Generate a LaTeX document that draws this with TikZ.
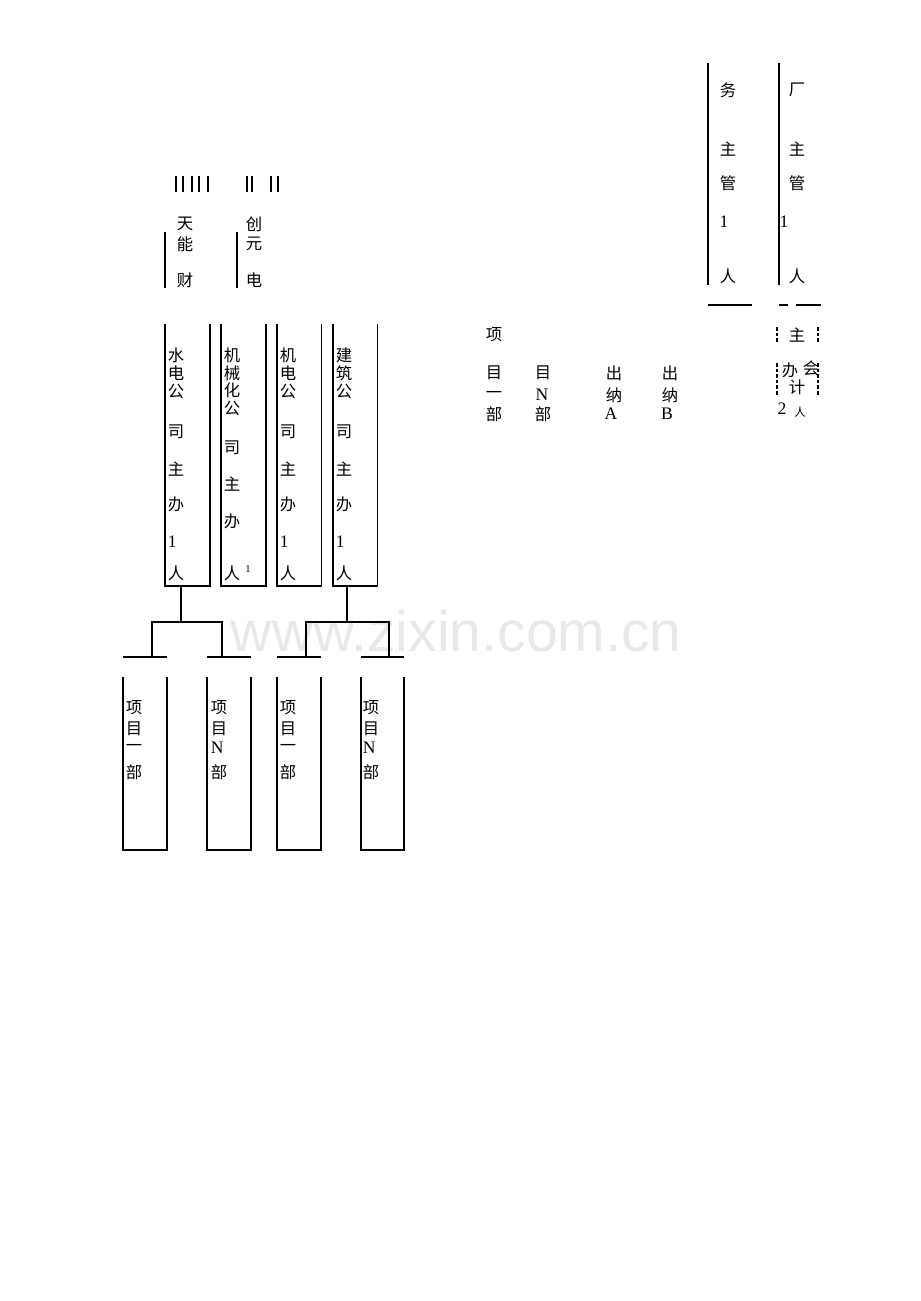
\documentclass[tikz,border=0pt]{standalone}
\usepackage{fontspec}
\setmainfont{Liberation Serif}
\setsansfont{Liberation Sans}
\newfontfamily\cjk{Noto Sans CJK SC}

\begin{document}
\begin{tikzpicture}[x=0.02cm, y=-0.02cm, line width=1.1pt,
    zh/.style={font=\cjk\fontsize{9.3}{9.5}\selectfont, inner sep=0pt},
    la/.style={font=\fontsize{10}{10}\selectfont, inner sep=0pt},
    colbox/.style={minimum width=0.86cm, minimum height=5.2cm, inner sep=0pt},
    xmbox/.style={minimum width=0.83cm, minimum height=3.42cm, inner sep=0pt},
    dashedge/.style={dash pattern=on 2pt off 1.2pt}]
    \useasboundingbox (0,0) rectangle (920,1301);

    % watermark
    \node[font=\sffamily\fontsize{32.5}{34}\selectfont, text=black!9, anchor=base west, inner sep=0pt] (wm) at (230,651) {www.zixin.com.cn};

    % top left
    \foreach \x in {176,183,192,199,208,247,252,271,278}
        \draw[line width=0.9pt] (\x,176) -- (\x,192);
    \draw (165,232) -- (165,288);
    \draw (237,232) -- (237,288);
    \node[zh] (tn1) at (185,224) {天};
    \node[zh] (tn2) at (185,244) {能};
    \node[zh] (tn3) at (185,280) {财};
    \node[zh] (cy1) at (254,224) {创};
    \node[zh] (cy2) at (254,244) {元};
    \node[zh] (cy3) at (254,280) {电};

    % top right
    \draw (708,63) -- (708,285);
    \draw (779,63) -- (779,285);
    \node[zh] (cw1) at (728,90) {务};
    \node[zh] (cw2) at (728,149) {主};
    \node[zh] (cw3) at (728,183) {管};
    \node[la] (cw4) at (724,222) {1};
    \node[zh] (cw5) at (728,276) {人};
    \node[zh] (cz1) at (797,90) {厂};
    \node[zh] (cz2) at (797,149) {主};
    \node[zh] (cz3) at (797,183) {管};
    \node[la] (cz4) at (784,222) {1};
    \node[zh] (cz5) at (797,276) {人};
    \draw (708,305) -- (752,305);
    \draw (779,305) -- (788,305);
    \draw (796,305) -- (821,305);

    % accountants
    \draw[dashedge] (777,327) -- (777,342);
    \draw[dashedge] (818,327) -- (818,342);
    \draw[dashedge] (777,363) -- (777,395);
    \draw[dashedge] (818,363) -- (818,395);
    \node[zh] (kj1) at (797,335) {主};
    \node[zh] (kj2) at (790,370) {办};
    \node[zh] (kj3) at (811,368) {会};
    \node[zh] (kj4) at (797,387) {计};
    \node[la] (kj5) at (782,409) {2};
    \node[zh, font=\cjk\fontsize{6.5}{7}\selectfont] (kj6) at (800,412) {人};

    % middle row
    \node[zh] (xm0) at (494,335) {项};
    \node[zh] (xa1) at (494,373) {目};
    \node[zh] (xa2) at (494,395) {一};
    \node[zh] (xa3) at (494,414) {部};
    \node[zh] (xb1) at (543,373) {目};
    \node[la] (xb2) at (542,395) {N};
    \node[zh] (xb3) at (543,414) {部};
    \node[zh] (cn1) at (614,373) {出};
    \node[zh] (cn2) at (614,395) {纳};
    \node[la] (cn3) at (611,414) {A};
    \node[zh] (cn4) at (670,373) {出};
    \node[zh] (cn5) at (670,395) {纳};
    \node[la] (cn6) at (667,414) {B};

    % companies
    \node[colbox] (s1) at (187.5,455) {};
    \node[colbox] (s2) at (243.5,455) {};
    \node[colbox] (s3) at (299,455) {};
    \node[colbox] (s4) at (355,455) {};
    \foreach \b in {s1,s2,s3,s4}
        \draw (\b.north west) |- (\b.south east) -- (\b.north east);
    \foreach \y/\c [count=\i] in {355/水,373/电,391/公,432/司,469/主,504/办,542/{\rmfamily\fontsize{10}{10}\selectfont 1},573/人}
        \node[zh, anchor=west] (s1c\i) at (167,\y) {\c};
    \foreach \y/\c [count=\i] in {355/机,373/械,390/化,408/公,448/司,484/主,521/办,573/人}
        \node[zh, anchor=west] (s2c\i) at (223,\y) {\c};
    \node[la, font=\fontsize{6}{6}\selectfont] (s2n) at (248,569) {1};
    \foreach \y/\c [count=\i] in {355/机,373/电,391/公,432/司,469/主,504/办,542/{\rmfamily\fontsize{10}{10}\selectfont 1},573/人}
        \node[zh, anchor=west] (s3c\i) at (279,\y) {\c};
    \foreach \y/\c [count=\i] in {355/建,373/筑,391/公,432/司,469/主,504/办,542/{\rmfamily\fontsize{10}{10}\selectfont 1},573/人}
        \node[zh, anchor=west] (s4c\i) at (335,\y) {\c};

    % projects
    \node[xmbox] (t1) at (145,763.5) {};
    \node[xmbox] (t2) at (229,763.5) {};
    \node[xmbox] (t3) at (299,763.5) {};
    \node[xmbox] (t4) at (382.5,763.5) {};
    \foreach \b in {t1,t2,t3,t4} {
        \draw (\b.north west) |- (\b.south east) -- (\b.north east);
        \draw ([yshift=0.4cm]\b.north west) -- ([yshift=0.4cm]\b.north east);
    }
    \foreach \b/\x in {t1/125,t3/279} {
        \node[zh, anchor=west] (\b a) at (\x,708) {项};
        \node[zh, anchor=west] (\b b) at (\x,729) {目};
        \node[zh, anchor=west] (\b c) at (\x,748) {一};
        \node[zh, anchor=west] (\b d) at (\x,772) {部};
    }
    \foreach \b/\x in {t2/210,t4/362} {
        \node[zh, anchor=west] (\b a) at (\x,708) {项};
        \node[zh, anchor=west] (\b b) at (\x,729) {目};
        \node[la, anchor=west] (\b c) at (\x,748) {N};
        \node[zh, anchor=west] (\b d) at (\x,772) {部};
    }

    % links
    \coordinate (j1) at (181,622);
    \coordinate (j2) at (347,622);
    \coordinate (k1) at (152,658);
    \coordinate (k2) at (222,658);
    \coordinate (k3) at (306,658);
    \coordinate (k4) at (389,658);
    \draw (j1 |- s1.south) -- (j1);
    \draw (j2 |- s4.south) -- (j2);
    \draw (k1) -- (k1 |- j1) -- (k2 |- j1) -- (k2);
    \draw (k3) -- (k3 |- j2) -- (k4 |- j2) -- (k4);
\end{tikzpicture}
\end{document}
